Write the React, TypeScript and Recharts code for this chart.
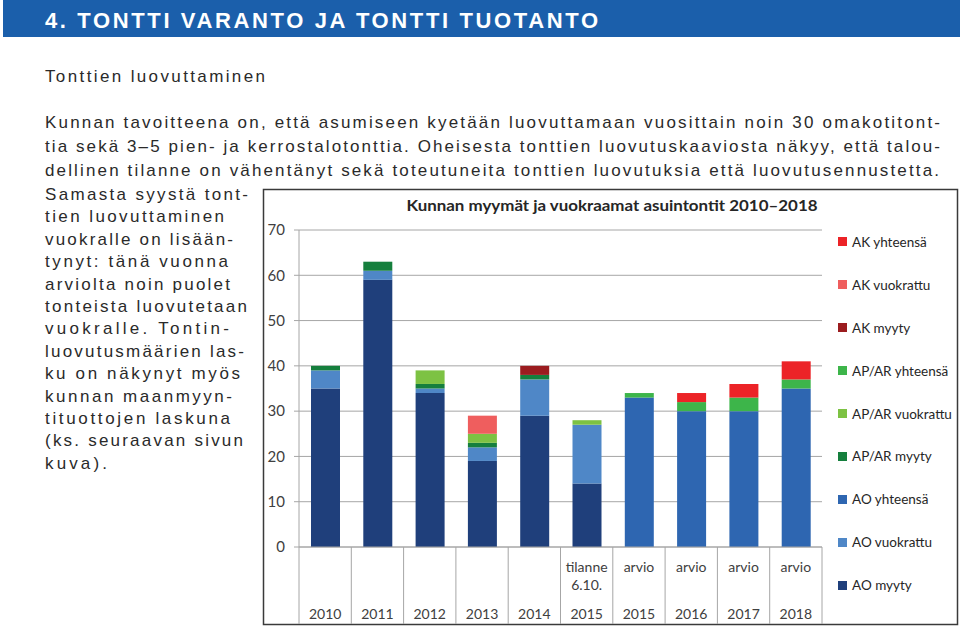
import React from 'react';
import { BarChart, Bar, XAxis, YAxis, CartesianGrid } from 'recharts';

const categories = ['2010', '2011', '2012', '2013', '2014', '2015t', '2015a', '2016', '2017', '2018'];
const yearLabels = ['2010', '2011', '2012', '2013', '2014', '2015', '2015', '2016', '2017', '2018'];
const noteLabels: string[][] = [[], [], [], [], [], ['tilanne', '6.10.'], ['arvio'], ['arvio'], ['arvio'], ['arvio']];

const aoMyyty = [35, 59, 34, 19, 29, 14, 0, 0, 0, 0];
const aoVuokrattu = [4, 2, 1, 3, 8, 13, 0, 0, 0, 0];
const aoYhteensa = [0, 0, 0, 0, 0, 0, 33, 30, 30, 35];
const apMyyty = [1, 2, 1, 1, 1, 0, 0, 0, 0, 0];
const apVuokrattu = [0, 0, 3, 2, 0, 1, 0, 0, 0, 0];
const apYhteensa = [0, 0, 0, 0, 0, 0, 1, 2, 3, 2];
const akMyyty = [0, 0, 0, 0, 2, 0, 0, 0, 0, 0];
const akVuokrattu = [0, 0, 0, 4, 0, 0, 0, 0, 0, 0];
const akYhteensa = [0, 0, 0, 0, 0, 0, 0, 2, 3, 4];

const yTicks = [0, 10, 20, 30, 40, 50, 60, 70];

const chartTitle = 'Kunnan myymät ja vuokraamat asuintontit 2010–2018';
const headerText = '4. TONTTI VARANTO JA TONTTI TUOTANTO';
const subHeading = 'Tonttien luovuttaminen';
const paragraphLines = [
  'Kunnan tavoitteena on, että asumiseen kyetään luovuttamaan vuosittain noin 30 omakotitont-',
  'tia sekä 3–5 pien- ja kerrostalotonttia. Oheisesta tonttien luovutuskaaviosta näkyy, että talou-',
  'dellinen tilanne on vähentänyt sekä toteutuneita tonttien luovutuksia että luovutusennustetta.',
];
const columnLines = [
  'Samasta syystä tont-',
  'tien luovuttaminen',
  'vuokralle on lisään-',
  'tynyt: tänä vuonna',
  'arviolta noin puolet',
  'tonteista luovutetaan',
  'vuokralle. Tontin-',
  'luovutusmäärien las-',
  'ku on näkynyt myös',
  'kunnan maanmyyn-',
  'tituottojen laskuna',
  '(ks. seuraavan sivun',
  'kuva).',
];

const series = [
  { key: 'aoMyyty', name: 'AO myyty', values: aoMyyty, color: '#1f3f7b' },
  { key: 'aoVuokrattu', name: 'AO vuokrattu', values: aoVuokrattu, color: '#4f87c7' },
  { key: 'aoYhteensa', name: 'AO yhteensä', values: aoYhteensa, color: '#2e66b1' },
  { key: 'apMyyty', name: 'AP/AR myyty', values: apMyyty, color: '#157f3d' },
  { key: 'apVuokrattu', name: 'AP/AR vuokrattu', values: apVuokrattu, color: '#7dc243' },
  { key: 'apYhteensa', name: 'AP/AR yhteensä', values: apYhteensa, color: '#3db54a' },
  { key: 'akMyyty', name: 'AK myyty', values: akMyyty, color: '#9b1c1f' },
  { key: 'akVuokrattu', name: 'AK vuokrattu', values: akVuokrattu, color: '#ef5e5e' },
  { key: 'akYhteensa', name: 'AK yhteensä', values: akYhteensa, color: '#ec2327' },
];

const data = categories.map((c, i) => {
  const row: Record<string, any> = { cat: c };
  series.forEach((s) => {
    row[s.key] = s.values[i];
  });
  return row;
});

// layout
const W = 960;
const H = 629;
const PLOT_LEFT = 299;
const PLOT_RIGHT = 822;
const PLOT_TOP = 230;
const PLOT_BOTTOM = 547;
const BOX_BOTTOM = 624;
const HALF_BAND = (PLOT_RIGHT - PLOT_LEFT) / categories.length / 2;
const CHART_FONT = 'Lato, "Open Sans", sans-serif';
const AXIS_GRAY = '#a6a6a6';

const XTick = (props: any) => {
  const { x, y, payload } = props;
  const i = payload.index;
  const notes = noteLabels[i] || [];
  const last = i === categories.length - 1;
  const h = BOX_BOTTOM - y;
  return (
    <g>
      <line x1={x - HALF_BAND} x2={x - HALF_BAND} y1={y} y2={y + h} stroke={AXIS_GRAY} strokeWidth={1} />
      {last && <line x1={x + HALF_BAND} x2={x + HALF_BAND} y1={y} y2={y + h} stroke={AXIS_GRAY} strokeWidth={1} />}
      {notes.map((t, k) => (
        <text key={k} x={x} y={y + 25 + k * 18} textAnchor="middle" fontSize={14} fill="#404040" fontFamily={CHART_FONT}>
          {t}
        </text>
      ))}
      <text x={x} y={y + 72} textAnchor="middle" fontSize={14} fill="#404040" fontFamily={CHART_FONT}>
        {yearLabels[i]}
      </text>
    </g>
  );
};

const BODY_FONT = '"Liberation Sans", Arial, sans-serif';

export default function App() {
  const legendItems = [...series].reverse();
  return (
    <div style={{ position: 'absolute', left: 0, top: 0, width: W, height: H, background: '#ffffff', overflow: 'hidden' }}>
      <svg width={W} height={H} style={{ position: 'absolute', left: 0, top: 0 }}>
        <rect x={3} y={0} width={957} height={37} fill="#1b5fab" />
        <text x={45} y={28} fill="#ffffff" fontFamily={BODY_FONT} fontWeight="bold" fontSize={22} textLength={553} lengthAdjust="spacing">
          {headerText}
        </text>
        <text x={45} y={82} fill="#2a2a2a" fontFamily={BODY_FONT} fontSize={17} textLength={220} lengthAdjust="spacing">
          {subHeading}
        </text>
        {paragraphLines.map((t, i) => (
          <text key={i} x={45} y={128 + i * 24} fill="#2a2a2a" fontFamily={BODY_FONT} fontSize={17} textLength={[895, 895, 894][i]} lengthAdjust="spacing">
            {t}
          </text>
        ))}
        {columnLines.map((t, i) => (
          <text key={i} x={45} y={200 + i * 22.4} fill="#2a2a2a" fontFamily={BODY_FONT} fontSize={17} textLength={[203, 179, 188, 183, 185, 202, 184, 199, 195, 187, 185, 198, 62][i]} lengthAdjust="spacing">
            {t}
          </text>
        ))}
        <rect x={263.5} y={189.5} width={694} height={435} fill="#ffffff" stroke="#3a3a3a" strokeWidth={1.5} />
        <text x={612} y={211} textAnchor="middle" fill="#262626" fontFamily={CHART_FONT} fontWeight="bold" fontSize={16} textLength={411} lengthAdjust="spacingAndGlyphs">
          {chartTitle}
        </text>
      </svg>
      <div style={{ position: 'absolute', left: 0, top: 0 }}>
        <BarChart
          width={W}
          height={H}
          data={data}
          margin={{ top: PLOT_TOP, right: W - PLOT_RIGHT, left: PLOT_LEFT - 30, bottom: H - PLOT_BOTTOM - 78 }}
          barSize={29}
        >
          <CartesianGrid horizontal vertical={false} stroke={AXIS_GRAY} strokeWidth={1} />
          <XAxis
            dataKey="cat"
            height={78}
            interval={0}
            tickLine={false}
            tickSize={0}
            tickMargin={0}
            axisLine={{ stroke: AXIS_GRAY }}
            tick={<XTick />}
          />
          <YAxis
            width={30}
            domain={[0, 70]}
            ticks={yTicks}
            interval={0}
            tickSize={5}
            tickMargin={9}
            tickLine={{ stroke: AXIS_GRAY }}
            axisLine={{ stroke: AXIS_GRAY }}
            tick={{ fontSize: 15, fill: '#404040', fontFamily: CHART_FONT }}
          />
          {series.map((s) => (
            <Bar key={s.key} dataKey={s.key} name={s.name} stackId="a" fill={s.color} isAnimationActive={false} />
          ))}
        </BarChart>
      </div>
      <div style={{ position: 'absolute', left: 838, top: 220.5, display: 'flex', flexDirection: 'column' }}>
        {legendItems.map((s) => (
          <div key={s.key} style={{ height: 42.9, display: 'flex', alignItems: 'center', fontFamily: CHART_FONT, fontSize: 13.5, color: '#262626', whiteSpace: 'nowrap' }}>
            <span style={{ display: 'inline-block', width: 9, height: 9, background: s.color, marginRight: 5 }} />
            <span>{s.name}</span>
          </div>
        ))}
      </div>
    </div>
  );
}
